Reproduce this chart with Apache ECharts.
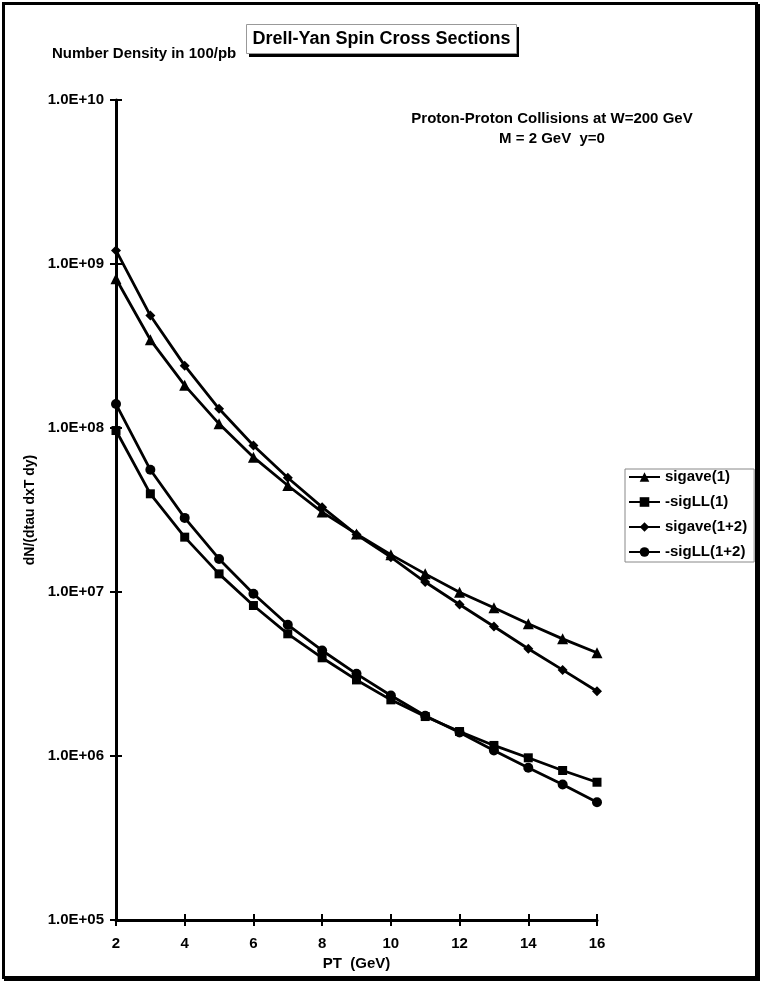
<!DOCTYPE html>
<html>
<head>
<meta charset="utf-8">
<script src="https://cdn.jsdelivr.net/npm/echarts@6/dist/echarts.min.js"></script>
<style>
  html, body { margin: 0; padding: 0; background: #fff; }
  #frame { position: absolute; left: 2px; top: 2px; width: 756px; height: 977px; box-sizing: border-box;
           border: 3px solid #000; box-shadow: 2px 2px 0 #000; }
  #chart { position: absolute; left: 0; top: 0; width: 763px; height: 983px; }
</style>
</head>
<body>
<div id="frame"></div>
<div id="chart"></div>
<script>
var pt = [2, 3, 4, 5, 6, 7, 8, 9, 10, 11, 12, 13, 14, 15, 16];
var sigave1 = [8.13e8, 3.45e8, 1.82e8, 1.06e8, 6.64e7, 4.46e7, 3.07e7, 2.26e7, 1.69e7, 1.29e7, 9.97e6, 8.01e6, 6.40e6, 5.18e6, 4.26e6];
var sigLL1 = [9.65e7, 3.97e7, 2.16e7, 1.29e7, 8.27e6, 5.56e6, 3.97e6, 2.91e6, 2.20e6, 1.74e6, 1.41e6, 1.16e6, 9.75e5, 8.16e5, 6.92e5];
var sigave12 = [1.21e9, 4.85e8, 2.40e8, 1.31e8, 7.82e7, 4.97e7, 3.29e7, 2.24e7, 1.63e7, 1.15e7, 8.39e6, 6.16e6, 4.51e6, 3.35e6, 2.48e6];
var sigLL12 = [1.40e8, 5.56e7, 2.83e7, 1.59e7, 9.75e6, 6.31e6, 4.40e6, 3.17e6, 2.34e6, 1.76e6, 1.39e6, 1.08e6, 8.47e5, 6.70e5, 5.23e5];
var seriesNames = ['sigave(1)', '-sigLL(1)', 'sigave(1+2)', '-sigLL(1+2)'];
var note = ['Proton-Proton Collisions at W=200 GeV', 'M = 2 GeV  y=0'];

var font = "'Liberation Sans', Arial, sans-serif";

function expLabel(v) {
  var e = Math.round(Math.log10(v));
  var s = (e < 10 ? '0' : '') + e;
  return '1.0E+' + s;
}
function pairs(arr) {
  return pt.map(function(x, i) { return [x, arr[i]]; });
}
function line(name, data, symbol, size) {
  return {
    type: 'line', name: name, data: pairs(data),
    symbol: symbol, symbolSize: size,
    lineStyle: { color: '#000', width: 2.8 },
    itemStyle: { color: '#000' },
    animation: false
  };
}

var chart = echarts.init(document.getElementById('chart'));
chart.setOption({
  animation: false,
  backgroundColor: 'transparent',
  textStyle: { fontFamily: font },
  grid: { left: 116, right: 166, top: 100, bottom: 63 },
  legend: {
    data: seriesNames,
    orient: 'vertical',
    left: 625, top: 469,
    itemWidth: 31, itemHeight: 12, itemGap: 9,
    padding: [0, 7, 2, 3],
    borderColor: '#888', borderWidth: 1,
    textStyle: { fontFamily: font, fontWeight: 'bold', fontSize: 15, color: '#000', lineHeight: 16 }
  },
  xAxis: [{
    type: 'value', min: 2, max: 16, interval: 2,
    name: 'PT  (GeV)', nameLocation: 'middle', nameGap: 35,
    nameTextStyle: { fontFamily: font, fontWeight: 'bold', fontSize: 15, color: '#000' },
    axisLine: { lineStyle: { color: '#000', width: 3 } },
    axisTick: { length: 6, lineStyle: { color: '#000', width: 2 } },
    axisLabel: { margin: 16, fontFamily: font, fontWeight: 'bold', fontSize: 15, color: '#000' },
    splitLine: { show: false }
  }, {
    type: 'value', min: 2, max: 16, interval: 2, position: 'bottom',
    axisLine: { show: false },
    axisTick: { inside: true, length: 6, lineStyle: { color: '#000', width: 2 } },
    axisLabel: { show: false }, splitLine: { show: false }
  }],
  yAxis: [{
    type: 'log', logBase: 10, min: 1e5, max: 1e10,
    name: 'dN/(dtau dxT dy)', nameLocation: 'middle', nameGap: 76, nameRotate: 90,
    nameTextStyle: { fontFamily: font, fontWeight: 'bold', fontSize: 14, color: '#000' },
    axisLine: { show: true, lineStyle: { color: '#000', width: 3 } },
    axisTick: { show: true, length: 6, lineStyle: { color: '#000', width: 2 } },
    axisLabel: { margin: 12, fontFamily: font, fontWeight: 'bold', fontSize: 15, color: '#000', formatter: expLabel },
    splitLine: { show: false }
  }, {
    type: 'log', logBase: 10, min: 1e5, max: 1e10, position: 'left',
    axisLine: { show: false },
    axisTick: { show: true, inside: true, length: 6, lineStyle: { color: '#000', width: 2 } },
    axisLabel: { show: false }, splitLine: { show: false }
  }],
  graphic: [
    { type: 'rect', shape: { x: 249, y: 27, width: 270, height: 30 }, style: { fill: '#000' }, silent: true },
    { type: 'rect', shape: { x: 246.5, y: 24.5, width: 270, height: 29 }, style: { fill: '#fff', stroke: '#999', lineWidth: 1 }, silent: true },
    { type: 'text', x: 381.5, y: 39.5, style: { text: 'Drell-Yan Spin Cross Sections', fontFamily: font, fontWeight: 'bold', fontSize: 18, fill: '#000', align: 'center', verticalAlign: 'middle' } },
    { type: 'text', x: 52, y: 54, style: { text: 'Number Density in 100/pb', fontFamily: font, fontWeight: 'bold', fontSize: 15, fill: '#000', align: 'left', verticalAlign: 'middle' } },
    { type: 'text', x: 552, y: 119, style: { text: note[0], fontFamily: font, fontWeight: 'bold', fontSize: 15, fill: '#000', align: 'center', verticalAlign: 'middle' } },
    { type: 'text', x: 552, y: 139, style: { text: note[1], fontFamily: font, fontWeight: 'bold', fontSize: 15, fill: '#000', align: 'center', verticalAlign: 'middle' } }
  ],
  series: [
    line(seriesNames[0], sigave1, 'triangle', 11),
    line(seriesNames[1], sigLL1, 'rect', 9),
    line(seriesNames[2], sigave12, 'diamond', 10),
    line(seriesNames[3], sigLL12, 'circle', 10)
  ]
});
</script>
</body>
</html>
